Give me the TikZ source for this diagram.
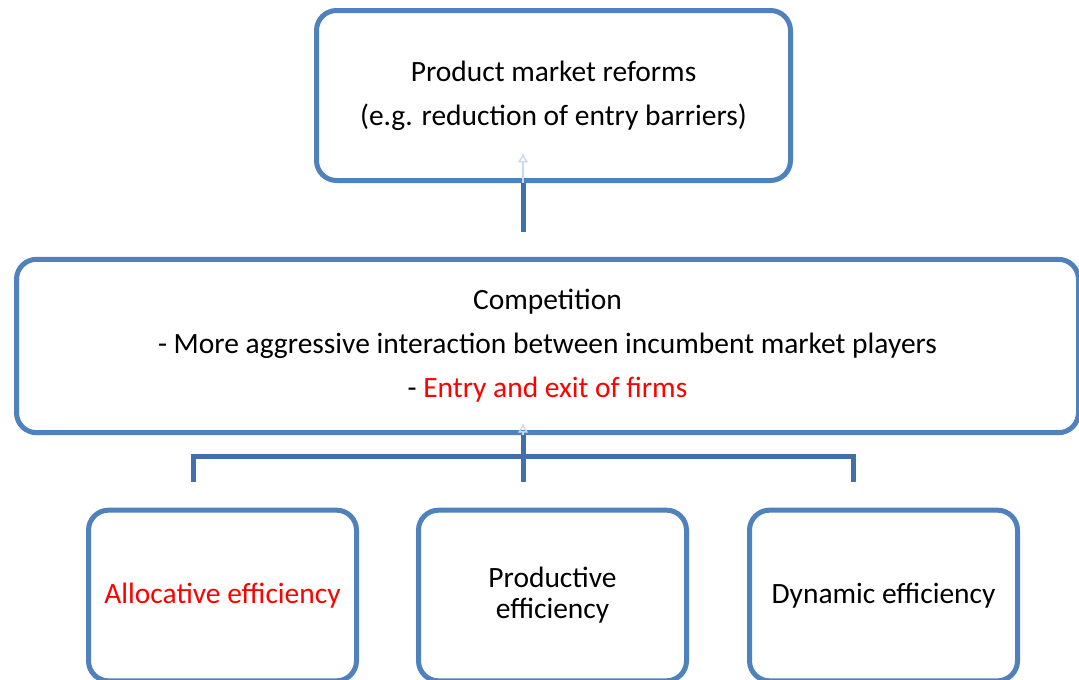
\documentclass[tikz,border=0pt]{standalone}
\usepackage{fontspec}
\setmainfont{Carlito}
\usepackage{xcolor}
\usepackage{tikz}
\usetikzlibrary{arrows.meta,positioning}
\definecolor{boxblue}{RGB}{79,129,189}
\definecolor{linkblue}{RGB}{66,112,170}
\definecolor{hotred}{RGB}{255,0,0}
\tikzset{
  panel/.style={draw=boxblue, line width=3.75pt, rounded corners=15pt, fill=white,
    align=center, inner sep=0pt, font=\fontsize{22.1}{33}\selectfont},
  leaf/.style={panel, minimum width=201pt, minimum height=128pt},
  link/.style={linkblue, line width=3.75pt},
  ghost/.style={-{Latex[length=7pt,width=8pt,open]}, boxblue!30, line width=1pt},
}

\begin{document}
\begin{tikzpicture}[x=0.75pt,y=-0.75pt]
  \clip (0,0) rectangle (1079,679);
  % boxes
  \node[panel, minimum width=355.5pt, minimum height=127.5pt] (reform) at (553.5,95.5)
    {Product market reforms\\(e.g. reduction of entry barriers)};
  \node[panel, minimum width=796.5pt, minimum height=130pt] (compet) at (547.5,346)
    {Competition\\- More aggressive interaction between incumbent market players\\- \textcolor{hotred}{Entry and exit of firms}};
  \node[leaf] (alloc) at (222.5,595.5) {\textcolor{hotred}{Allocative efficiency}};
  \node[leaf, font=\fontsize{22.1}{23.3}\selectfont] (prod) at (552.5,595.5) {Productive\\efficiency};
  \node[leaf] (dyn) at (883.5,595.5) {Dynamic efficiency};
  % connectors
  \coordinate (up) at (523,232);
  \coordinate (fork) at (523,456);
  \coordinate (legL) at (193,482);
  \coordinate (legM) at (523,482);
  \coordinate (legR) at (853,482);
  \draw[link] (up) -- (up |- reform.south);
  \draw[ghost] (up |- reform.south) -- ++(0,-30);
  \draw[link] (fork |- compet.south) -- (legM);
  \draw[ghost] (fork |- compet.south) -- ++(0,-12);
  \draw[link] (legL) |- (fork) -| (legR);
\end{tikzpicture}
\end{document}
